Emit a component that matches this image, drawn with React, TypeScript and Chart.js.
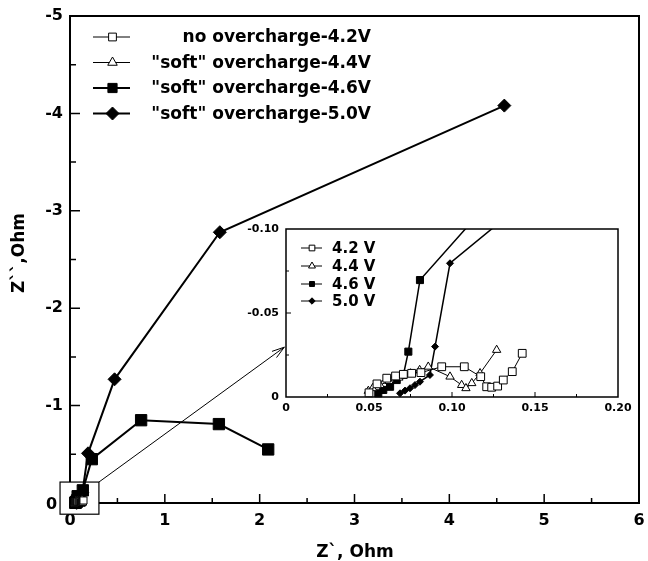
import React, { useEffect, useRef } from 'react';
import { Chart, registerables } from 'chart.js';
import { drawPoint } from 'chart.js/helpers';

Chart.register(...registerables);

// ---------------- data ----------------
const SERIES_LABELS = ['no overcharge-4.2V', '"soft" overcharge-4.4V', '"soft" overcharge-4.6V', '"soft" overcharge-5.0V'];
const INSET_LABELS = ['4.2 V', '4.4 V', '4.6 V', '5.0 V'];

const V42_X = [0.0500, 0.0548, 0.0607, 0.0660, 0.0707, 0.0757, 0.0813, 0.0938, 0.1074, 0.1173, 0.1209, 0.1239, 0.1275, 0.1309, 0.1363, 0.1423];
const V42_Y = [-0.0025, -0.0078, -0.0112, -0.0125, -0.0135, -0.0141, -0.0145, -0.0180, -0.0180, -0.0121, -0.0061, -0.0058, -0.0065, -0.0101, -0.0151, -0.0260];

const V44_X = [0.0496, 0.0522, 0.0566, 0.0620, 0.0680, 0.0750, 0.0805, 0.0857, 0.0988, 0.1058, 0.1084, 0.1119, 0.1169, 0.1269];
const V44_Y = [-0.0036, -0.0052, -0.0071, -0.0095, -0.0115, -0.0140, -0.0160, -0.0180, -0.0121, -0.0071, -0.0052, -0.0082, -0.0141, -0.0280];

const V46_X = [0.0556, 0.0586, 0.0627, 0.0667, 0.0707, 0.0737, 0.0807, 0.135, 0.23, 0.75, 1.57, 2.09];
const V46_Y = [-0.0022, -0.0042, -0.0061, -0.0101, -0.0131, -0.0270, -0.0696, -0.13, -0.45, -0.85, -0.81, -0.55];

const V50_X = [0.0687, 0.0717, 0.0747, 0.0777, 0.0807, 0.0867, 0.0898, 0.0988, 0.13, 0.19, 0.47, 1.58, 4.58];
const V50_Y = [-0.0022, -0.0038, -0.0052, -0.0071, -0.0091, -0.0131, -0.0300, -0.0796, -0.105, -0.51, -1.27, -2.78, -4.08];

const SERIES_X = [V42_X, V44_X, V46_X, V50_X];
const SERIES_Y = [V42_Y, V44_Y, V46_Y, V50_Y];

// zoom box (data coords of main chart) and arrow target
const BOX_X = [-0.105, 0.305];
const BOX_Y = [0.115, -0.215];
const ARROW_END = [2.26, -1.6];

// ---------------- styles ----------------
const FONT = 'DejaVu Sans';
const STYLE = [
  { pointStyle: 'rect', fill: '#ffffff', line: 1, insetLine: 1 },
  { pointStyle: 'triangle', fill: '#ffffff', line: 1, insetLine: 1 },
  { pointStyle: 'rect', fill: '#000000', line: 2, insetLine: 1.5 },
  { pointStyle: 'rectRot', fill: '#000000', line: 2, insetLine: 1.5 },
];
const MAIN_RADIUS = [5, 5.5, 8, 6.5];
const INSET_RADIUS = [5.5, 4.8, 5, 3.5];
const MAIN_LEGEND_RADIUS = [5.5, 5.5, 6.5, 6.5];
const INSET_LEGEND_RADIUS = [4, 4, 3.5, 3.2];

function pts(xs: number[], ys: number[]) {
  return xs.map((v, i) => ({ x: v, y: ys[i] }));
}

function marker(ctx: CanvasRenderingContext2D, i: number, r: number, x: number, y: number) {
  ctx.save();
  ctx.fillStyle = STYLE[i].fill;
  ctx.strokeStyle = '#000';
  ctx.lineWidth = 1;
  drawPoint(ctx, { pointStyle: STYLE[i].pointStyle as any, radius: r, rotation: 0, borderWidth: 1 } as any, x, y);
  ctx.restore();
}

const mainDecor = {
  id: 'mainDecor',
  beforeDatasetsDraw(chart: any) {
    const { ctx, chartArea: a, scales } = chart;
    const x = scales.x, y = scales.y;
    ctx.save();
    ctx.strokeStyle = '#000';
    ctx.lineWidth = 2;
    ctx.strokeRect(a.left, a.top, a.right - a.left, a.bottom - a.top);
    ctx.lineWidth = 1.5;
    ctx.beginPath();
    for (let v = 0.5; v < 6; v += 0.5) {
      const px = x.getPixelForValue(v);
      const len = Number.isInteger(v) ? 9 : 5;
      ctx.moveTo(px, a.bottom);
      ctx.lineTo(px, a.bottom - len);
    }
    for (let v = -0.5; v > -5; v -= 0.5) {
      const py = y.getPixelForValue(v);
      const len = Number.isInteger(v) ? 10 : 6;
      ctx.moveTo(a.left, py);
      ctx.lineTo(a.left + len, py);
    }
    ctx.stroke();
    // zoom box
    const bx0 = x.getPixelForValue(BOX_X[0]);
    const bx1 = x.getPixelForValue(BOX_X[1]);
    const by0 = y.getPixelForValue(BOX_Y[0]);
    const by1 = y.getPixelForValue(BOX_Y[1]);
    ctx.fillStyle = '#fff';
    ctx.fillRect(bx0, by1, bx1 - bx0, by0 - by1);
    ctx.lineWidth = 1.2;
    ctx.strokeRect(bx0, by1, bx1 - bx0, by0 - by1);
    // zero label on y axis (shifted left of the box)
    ctx.fillStyle = '#000';
    ctx.font = `bold 16px "${FONT}"`;
    ctx.textAlign = 'right';
    ctx.textBaseline = 'middle';
    ctx.fillText('0', bx0 - 3, y.getPixelForValue(0) + 2);
    ctx.restore();
  },
  afterDatasetsDraw(chart: any) {
    const { ctx, chartArea: a, scales } = chart;
    const x = scales.x, y = scales.y;
    ctx.save();
    // arrow
    const sx = x.getPixelForValue(BOX_X[1]);
    const sy = y.getPixelForValue(BOX_Y[1]);
    const ex = x.getPixelForValue(ARROW_END[0]);
    const ey = y.getPixelForValue(ARROW_END[1]);
    ctx.strokeStyle = '#000';
    ctx.lineWidth = 1;
    ctx.beginPath();
    ctx.moveTo(sx, sy);
    ctx.lineTo(ex, ey);
    const ang = Math.atan2(ey - sy, ex - sx);
    const hl = 13;
    ctx.moveTo(ex, ey);
    ctx.lineTo(ex - hl * Math.cos(ang - 0.3), ey - hl * Math.sin(ang - 0.3));
    ctx.moveTo(ex, ey);
    ctx.lineTo(ex - hl * Math.cos(ang + 0.3), ey - hl * Math.sin(ang + 0.3));
    ctx.stroke();

    // legend
    const rows = [21, 46.5, 72, 97.5];
    ctx.font = `bold 17px "${FONT}"`;
    ctx.textAlign = 'right';
    ctx.textBaseline = 'middle';
    SERIES_LABELS.forEach((lab, i) => {
      const ry = a.top + rows[i];
      ctx.strokeStyle = '#000';
      ctx.lineWidth = STYLE[i].line;
      ctx.beginPath();
      ctx.moveTo(a.left + 23, ry);
      ctx.lineTo(a.left + 60, ry);
      ctx.stroke();
      marker(ctx, i, MAIN_LEGEND_RADIUS[i], a.left + 42.5, ry);
      ctx.fillStyle = '#000';
      ctx.fillText(lab, a.left + 301, ry + 1);
    });

    // axis titles
    ctx.font = `bold 17px "${FONT}"`;
    ctx.textAlign = 'center';
    ctx.textBaseline = 'middle';
    ctx.fillText('Z`, Ohm', 355, 553);
    ctx.translate(20, 253);
    ctx.rotate(-Math.PI / 2);
    ctx.fillText('Z``,Ohm', 0, 0);
    ctx.restore();
  },
};

const insetDecor = {
  id: 'insetDecor',
  beforeDatasetsDraw(chart: any) {
    const { ctx, chartArea: a, scales } = chart;
    const x = scales.x, y = scales.y;
    ctx.save();
    ctx.fillStyle = '#fff';
    ctx.fillRect(a.left, a.top, a.right - a.left, a.bottom - a.top);
    ctx.strokeStyle = '#000';
    ctx.lineWidth = 1.5;
    ctx.strokeRect(a.left, a.top, a.right - a.left, a.bottom - a.top);
    ctx.lineWidth = 1;
    ctx.beginPath();
    for (let k = 1; k < 8; k++) {
      const px = x.getPixelForValue(k * 0.025);
      const len = k % 2 === 0 ? 5 : 3;
      ctx.moveTo(px, a.bottom);
      ctx.lineTo(px, a.bottom - len);
    }
    for (let k = 1; k < 4; k++) {
      const py = y.getPixelForValue(-k * 0.025);
      const len = k % 2 === 0 ? 5 : 3;
      ctx.moveTo(a.left, py);
      ctx.lineTo(a.left + len, py);
    }
    ctx.stroke();
    ctx.restore();
  },
  afterDatasetsDraw(chart: any) {
    const { ctx, chartArea: a } = chart;
    ctx.save();
    const rows = [19, 37, 55, 72];
    ctx.font = `bold 15px "${FONT}"`;
    ctx.textAlign = 'left';
    ctx.textBaseline = 'middle';
    INSET_LABELS.forEach((lab, i) => {
      const ry = a.top + rows[i];
      ctx.strokeStyle = '#000';
      ctx.lineWidth = 1;
      ctx.beginPath();
      ctx.moveTo(a.left + 15, ry);
      ctx.lineTo(a.left + 36, ry);
      ctx.stroke();
      marker(ctx, i, INSET_LEGEND_RADIUS[i], a.left + 26, ry);
      ctx.fillStyle = '#000';
      ctx.fillText(lab, a.left + 46, ry + 1);
    });
    ctx.restore();
  },
};

export default function App() {
  const mainRef = useRef<HTMLCanvasElement>(null);
  const insetRef = useRef<HTMLCanvasElement>(null);

  useEffect(() => {
    Chart.defaults.font.family = FONT;
    Chart.defaults.color = '#000';

    const mainChart = new Chart(mainRef.current as HTMLCanvasElement, {
      type: 'scatter',
      data: {
        datasets: SERIES_LABELS.map((lab, i) => ({
          label: lab,
          data: pts(SERIES_X[i], SERIES_Y[i]),
          showLine: true,
          borderColor: '#000',
          borderWidth: STYLE[i].line,
          backgroundColor: STYLE[i].fill,
          pointStyle: STYLE[i].pointStyle as any,
          pointRadius: MAIN_RADIUS[i],
          pointBorderWidth: 1,
          pointBorderColor: '#000',
          pointBackgroundColor: STYLE[i].fill,
          tension: 0,
          clip: false as any,
        })),
      },
      options: {
        responsive: false,
        animation: false,
        events: [],
        layout: { padding: { left: 0, right: 5, top: 16, bottom: 0 } },
        plugins: { legend: { display: false }, tooltip: { enabled: false } },
        scales: {
          x: {
            type: 'linear',
            min: 0,
            max: 6,
            ticks: { stepSize: 1, padding: 8, font: { size: 16, weight: 'bold' }, color: '#000', maxRotation: 0, autoSkip: false },
            grid: { display: false, drawTicks: false },
            border: { display: false },
            afterFit(s: any) { s.height = 58; s.paddingLeft = 0; s.paddingRight = 0; },
          },
          y: {
            type: 'linear',
            min: -5,
            max: 0,
            reverse: true,
            ticks: {
              stepSize: 1, padding: 7, font: { size: 16, weight: 'bold' }, color: '#000', autoSkip: false,
              callback: (v: any) => (Number(v) === 0 ? '' : String(v)),
            },
            grid: { display: false, drawTicks: false },
            border: { display: false },
            afterFit(s: any) { s.width = 70; s.paddingTop = 0; s.paddingBottom = 0; },
          },
        },
      } as any,
      plugins: [mainDecor],
    });

    const insetChart = new Chart(insetRef.current as HTMLCanvasElement, {
      type: 'scatter',
      data: {
        datasets: INSET_LABELS.map((lab, i) => ({
          label: lab,
          data: pts(SERIES_X[i], SERIES_Y[i]),
          showLine: true,
          borderColor: '#000',
          borderWidth: STYLE[i].insetLine,
          backgroundColor: STYLE[i].fill,
          pointStyle: STYLE[i].pointStyle as any,
          pointRadius: INSET_RADIUS[i],
          pointBorderWidth: 1,
          pointBorderColor: '#000',
          pointBackgroundColor: STYLE[i].fill,
          tension: 0,
          clip: { left: 6, top: 0, right: 0, bottom: 8 } as any,
        })),
      },
      options: {
        responsive: false,
        animation: false,
        events: [],
        layout: { padding: { left: 0, right: 22, top: 9, bottom: 0 } },
        plugins: { legend: { display: false }, tooltip: { enabled: false } },
        scales: {
          x: {
            type: 'linear',
            min: 0,
            max: 0.2,
            ticks: {
              stepSize: 0.05, padding: 5, font: { size: 11, weight: 'bold' }, color: '#000', maxRotation: 0, autoSkip: false,
              callback: (v: any) => (Number(v) === 0 ? '0' : Number(v).toFixed(2)),
            },
            grid: { display: false, drawTicks: false },
            border: { display: false },
            afterFit(s: any) { s.height = 28; s.paddingLeft = 0; s.paddingRight = 0; },
          },
          y: {
            type: 'linear',
            min: -0.1,
            max: 0,
            reverse: true,
            ticks: {
              stepSize: 0.05, padding: 7, font: { size: 11, weight: 'bold' }, color: '#000', autoSkip: false,
              callback: (v: any) => (Number(v) === 0 ? '0' : Number(v).toFixed(2)),
            },
            grid: { display: false, drawTicks: false },
            border: { display: false },
            afterFit(s: any) { s.width = 46; s.paddingTop = 0; s.paddingBottom = 0; },
          },
        },
      } as any,
      plugins: [insetDecor],
    });

    return () => {
      mainChart.destroy();
      insetChart.destroy();
    };
  }, []);

  return (
    <div style={{ position: 'fixed', left: 0, top: 0, width: 648, height: 561, background: '#fff' }}>
      <canvas ref={mainRef} width={648} height={561} style={{ position: 'absolute', left: 0, top: 0, width: 648, height: 561 }} />
      <canvas ref={insetRef} width={400} height={205} style={{ position: 'absolute', left: 240, top: 220, width: 400, height: 205 }} />
    </div>
  );
}
